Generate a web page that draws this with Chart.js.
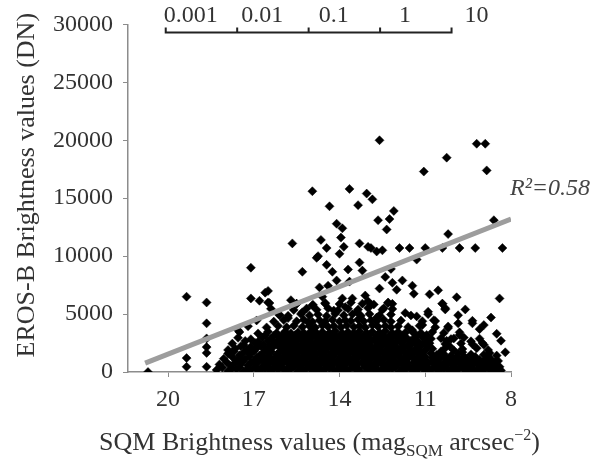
<!DOCTYPE html>
<html>
<head>
    <meta charset="utf-8">
    <title>EROS-B vs SQM</title>
    <script src="https://cdn.jsdelivr.net/npm/chart.js"></script>
    <style>
        body { margin: 0; background: #fff; }
        #wrap { width: 606px; height: 462px; position: relative; }
    </style>
</head>
<body>
    <div id="wrap"><canvas id="scatterChart"></canvas></div>
    <script>
        // SQM magnitude (x) / EROS-B DN (y)
        var points = [
            // sparse points, upper part
            [12.6,20000],[9.2,19700],[8.9,19700],[10.25,18500],[11.05,17300],[8.85,17400],
            [14.95,15600],[13.65,15800],[13.05,15400],[12.85,14900],[14.35,14300],[13.35,14400],
            [12.1,13900],[8.6,13100],[12.65,13100],[12.25,13200],[14.1,12800],[13.9,12400],
            [12.35,12300],[10.2,11900],[15.65,11100],[14.65,11400],[13.95,11600],[13.3,11100],
            [13.0,10800],[12.9,10700],[14.45,10700],[13.85,10800],[11.9,10700],[11.55,10700],
            [11.0,10700],[10.4,10700],[9.8,10700],[9.25,10700],[8.3,10700],[14.75,10000],
            [14.0,10200],[12.5,10500],[12.7,10400],
            [17.1,9000],[11.3,9700],[14.8,9850],[15.3,8650],[14.45,9250],[14.25,8650],[13.7,8850],
            [13.3,9450],[13.2,8750],[14.1,7900],[13.65,7800],[14.7,7300],[14.4,7450],[16.5,7000],
            [16.6,6850],[16.5,6000],[15.5,5900],[15.3,5150],[14.95,5750],[14.5,5900],[13.9,6350],
            [13.55,6350],[13.1,6600],[12.6,7200],[12.3,6000],[16.1,4900],[15.8,4650],[15.1,4300],
            [12.15,7700],[11.8,7900],[11.45,7450],[11.4,6750],[10.85,6700],[10.55,7050],[10.4,5900],
            [10.3,5500],[9.9,6450],[8.4,6350],[10.65,4400],[9.85,4200],[9.35,4200],[8.95,4050],
            [9.8,3200],[9.0,2500],[8.2,1700],[8.75,1650],[10.2,3800],[11.1,4050],[11.45,3600],[11.95,3200],
            [12.4,8200],[12.2,8900],[12.0,7100],
            [13.8,5600],[13.4,5200],[12.9,5800],[14.2,5300],[12.7,4700],[13.0,6100],[14.6,6500],
            [15.7,6200],[12.45,5500],[11.7,5100],[11.3,4800],[10.9,5200],[9.6,5400],[8.7,4700],
            [9.1,3700],[8.5,3300],[10.0,2900],[8.35,2700],
            // left side
            [20.7,0],[19.35,6500],[19.35,1200],[19.35,450],[18.65,6000],[18.65,4200],[18.65,2900],
            [18.65,2150],[18.65,1650],[18.65,450],[17.1,6350],[16.8,6150],[17.55,3600],[17.9,1900],
            // dense band near zero
            [18.3,180],[17.9,90],[17.6,240],[17.35,60],[17.1,200],[16.85,120],[16.6,280],[16.4,70],
            [16.15,190],[15.9,110],[15.7,260],[15.45,40],[15.25,170],[15.0,230],[14.8,80],[14.55,150],
            [14.35,300],[14.1,60],[13.9,180],[13.7,110],[13.45,250],[13.25,30],[13.0,160],[12.8,220],
            [12.55,70],[12.35,140],[12.15,290],[11.9,50],[11.7,180],[11.45,120],[11.25,240],[11.0,60],
            [10.8,170],[10.55,100],[10.35,260],[10.1,40],[9.9,150],[9.65,210],[9.45,80],[9.2,160],
            [9.0,30],[8.75,200],[8.55,90],[8.35,140],
            [18.1,380],[17.75,300],[17.5,420],[17.2,330],[16.95,400],[16.7,310],[16.5,430],[16.3,350],
            [16.0,390],[15.8,320],[15.6,440],[15.35,360],[15.15,300],[14.9,410],[14.7,340],[14.45,390],
            [14.25,320],[14.0,430],[13.8,350],[13.55,400],[13.35,310],[13.1,420],[12.9,360],[12.7,300],
            [12.45,410],[12.25,340],[12.05,390],[11.8,320],[11.6,430],[11.35,350],[11.1,400],[10.9,310],
            [10.7,420],[10.45,360],[10.25,330],[10.0,410],[9.8,340],[9.55,390],[9.35,320],[9.1,430],
            [8.9,350],[8.65,300],[8.45,380],
            [18.2,650],[17.8,520],[17.45,700],[17.2,560],[16.95,660],[16.7,480],[16.5,720],[16.25,590],
            [16.05,450],[15.8,680],[15.55,540],[15.35,760],[15.1,600],[14.9,470],[14.65,690],[14.45,560],
            [14.2,740],[14.0,500],[13.8,640],[13.55,570],[13.35,710],[13.1,480],[12.9,620],[12.65,750],
            [12.45,530],[12.2,660],[12.0,580],[11.75,700],[11.55,490],[11.3,630],[11.1,560],[10.9,720],
            [10.65,470],[10.45,610],[10.2,680],[10.0,520],[9.75,640],[9.5,560],[9.3,710],[9.05,480],
            [8.85,600],[8.6,530],[8.4,450],
            [17.95,850],[17.65,790],[17.4,880],[17.1,810],[16.85,860],[16.6,780],[16.4,900],[16.15,820],
            [15.95,870],[15.7,800],[15.45,890],[15.25,830],[15.0,860],[14.8,790],[14.55,900],[14.35,820],
            [14.1,870],[13.9,800],[13.65,880],[13.45,840],[13.2,780],[13.0,890],[12.75,820],[12.55,860],
            [12.3,800],[12.1,880],[11.9,830],[11.65,870],[11.4,790],[11.2,900],[11.0,820],[10.75,860],
            [10.55,800],[10.3,880],[10.1,830],[9.9,870],[9.65,790],[9.45,890],[9.2,820],[9.0,860],
            [8.75,800],[8.55,880],
            [18.05,1150],[17.6,980],[17.3,1120],[17.0,940],[16.75,1080],[16.55,1200],[16.3,960],[16.1,1090],
            [15.85,1010],[15.6,1180],[15.4,930],[15.2,1060],[14.95,1140],[14.7,990],[14.5,1200],[14.3,1030],
            [14.05,950],[13.85,1110],[13.6,1040],[13.4,1190],[13.15,970],[12.95,1080],[12.7,1150],[12.5,1000],
            [12.25,1120],[12.05,960],[11.8,1070],[11.6,1180],[11.35,1010],[11.15,1100],[10.95,940],[10.7,1060],
            [10.5,1140],[10.25,980],[10.05,1090],[9.8,1020],[9.55,1150],[9.35,950],[9.1,1050],[8.9,990],
            [8.7,1100],[8.45,960],
            [17.75,1300],[17.45,1240],[17.15,1330],[16.9,1260],[16.65,1310],[16.4,1230],[16.2,1340],[15.95,1270],
            [15.75,1320],[15.5,1250],[15.3,1290],[15.05,1340],[14.85,1260],[14.6,1310],[14.4,1240],[14.2,1330],
            [13.95,1270],[13.75,1300],[13.5,1230],[13.3,1340],[13.05,1260],[12.85,1310],[12.6,1250],[12.4,1320],
            [12.15,1270],[11.9,1300],[11.7,1240],[11.45,1330],[11.2,1260],[11.0,1300],[10.75,1240],[10.55,1320],
            [10.3,1270],[10.1,1300],[9.9,1250],[9.65,1330],[9.25,1310],[8.8,1300],
            [17.9,1600],[17.5,1450],[17.15,1550],[16.8,1420],[16.45,1640],[16.2,1500],[15.95,1380],[15.7,1570],
            [15.5,1470],[15.25,1620],[15.05,1400],[14.8,1530],[14.6,1660],[14.35,1440],[14.15,1580],[13.95,1490],
            [13.7,1370],[13.5,1610],[13.25,1460],[13.05,1540],[12.8,1400],[12.6,1650],[12.35,1480],[12.15,1560],
            [11.95,1420],[11.7,1590],[11.5,1460],[11.25,1530],[11.05,1390],[10.8,1620],[10.6,1470],[10.35,1550],
            [10.1,1410],[9.85,1580],[9.4,1520],[8.95,1490],[8.5,1420],
            [17.7,1760],[17.35,1700],[17.0,1780],[16.65,1720],[16.4,1770],[16.1,1700],[15.85,1750],[15.6,1710],
            [15.4,1790],[15.15,1720],[14.95,1760],[14.7,1700],[14.5,1780],[14.25,1730],[14.0,1770],[13.8,1710],
            [13.6,1790],[13.4,1720],[13.15,1760],[12.95,1700],[12.7,1780],[12.5,1730],[12.25,1770],[12.05,1710],
            [11.85,1760],[11.6,1720],[11.4,1790],[11.15,1700],[10.45,1780],[9.7,1700],
            [17.65,2000],[17.25,1880],[16.9,2060],[16.6,1920],[16.35,2100],[16.0,1850],[15.75,2010],[15.55,1930],
            [15.3,2080],[15.1,1890],[14.85,2040],[14.65,1960],[14.4,2120],[14.2,1870],[13.95,2030],[13.75,1950],
            [13.55,2090],[13.3,1900],[13.1,2050],[12.85,1980],[12.6,2110],[12.4,1860],[12.2,2020],[11.95,1940],
            [11.75,2070],[11.5,1910],[11.3,2040],[11.0,1880],[10.75,2000],[10.3,2080],[10.0,1870],
            [9.7,1990],[9.2,2050],[8.8,1900],
            [17.45,2230],[17.1,2170],[16.75,2250],[16.45,2180],[16.15,2240],[15.9,2160],[15.65,2220],[15.45,2190],
            [15.2,2260],[15.0,2170],[14.75,2230],[14.55,2180],[14.3,2250],[14.1,2200],[13.85,2240],[13.65,2170],
            [13.45,2230],[13.2,2190],[13.0,2260],[12.75,2180],[12.55,2240],[12.3,2170],[12.05,2230],[11.8,2190],
            [11.55,2250],[11.2,2180],[10.9,2230],[10.15,2220],
            [17.75,2450],[17.35,2330],[16.95,2500],[16.65,2380],[16.3,2470],[16.05,2340],[15.8,2520],[15.6,2410],
            [15.35,2360],[15.15,2490],[14.9,2400],[14.7,2550],[14.5,2350],[14.25,2460],[14.05,2380],[13.8,2530],
            [13.6,2420],[13.4,2340],[13.2,2480],[12.95,2400],[12.7,2560],[12.5,2360],[12.3,2450],[12.1,2390],
            [11.85,2500],[11.6,2350],[11.35,2430],[11.1,2380],[10.85,2490],[10.3,2420],
            [9.75,2470],[9.35,2400],[8.95,2350],
            [17.3,2680],[16.85,2620],[16.5,2700],[16.2,2640],[15.95,2690],[15.7,2610],[15.5,2680],[15.25,2650],
            [15.05,2700],[14.8,2620],[14.6,2690],[14.4,2640],[14.15,2710],[13.95,2630],[13.75,2680],[13.5,2650],
            [13.3,2700],[13.1,2620],[12.9,2690],[12.65,2640],[12.45,2700],[12.2,2630],[12.0,2680],[11.75,2650],
            [11.5,2700],[11.25,2620],[10.95,2680],[10.25,2690],[9.4,2650],
            [17.55,2950],[17.1,2830],[16.7,2980],[16.4,2860],[16.1,3010],[15.85,2900],[15.65,2820],[15.4,2970],
            [15.2,2880],[14.95,3030],[14.75,2850],[14.55,2960],[14.3,2890],[14.1,3040],[13.9,2840],[13.65,2950],
            [13.45,2870],[13.25,3000],[13.0,2910],[12.8,2830],[12.55,2980],[12.35,2880],[12.15,3020],[11.9,2850],
            [11.65,2940],[11.4,2880],[11.1,2990],[10.8,2860],[10.45,2920],[10.1,2840],[9.65,2970],[9.1,2880],
            [16.6,3180],[16.3,3120],[16.0,3200],[15.75,3140],[15.55,3190],[15.3,3120],[15.1,3180],[14.85,3150],
            [14.65,3210],[14.45,3130],[14.2,3190],[14.0,3140],[13.8,3200],[13.55,3120],[13.35,3180],[13.15,3150],
            [12.95,3210],[12.7,3130],[12.5,3190],[12.25,3140],[12.05,3180],[11.8,3120],[11.3,3150],
            [10.95,3200],
            [17.5,3450],[16.85,3330],[16.5,3480],[16.2,3370],[15.9,3500],[15.7,3350],[15.45,3440],[15.25,3380],
            [15.0,3520],[14.8,3360],[14.6,3460],[14.35,3390],[14.15,3540],[13.9,3340],[13.7,3450],[13.5,3380],
            [13.3,3510],[13.05,3360],[12.85,3470],[12.6,3400],[12.4,3530],[12.15,3350],[11.95,3460],[11.7,3390],
            [11.45,3480],[11.15,3360],[10.75,3450],[10.35,3370],[9.8,3420],
            [17.2,3950],[16.55,3850],[16.15,3980],[15.85,3870],[15.6,4000],[15.3,3880],[15.05,3960],[14.85,3840],
            [14.6,4020],[14.4,3900],[14.2,3960],[13.95,3860],[13.75,4010],[13.5,3890],[13.3,3970],[13.1,3850],
            [12.85,4030],[12.65,3910],[12.4,3980],[12.2,3870],[11.95,3940],[11.6,3880],[11.2,3990],[10.65,3860],
            [10.2,3930],
            [16.9,4450],[16.3,4350],[15.95,4480],[15.5,4380],[15.25,4500],[14.95,4340],[14.7,4460],[14.5,4390],
            [14.25,4520],[14.0,4360],[13.8,4470],[13.6,4400],[13.35,4530],[13.15,4370],[12.9,4460],[12.7,4390],
            [12.45,4510],[12.2,4350],[11.85,4440],[11.1,4380],[10.7,4470],[9.35,4420],
            [16.1,4950],[15.8,4850],[15.35,5000],[15.05,4880],[14.75,4970],[14.45,4840],[14.15,5020],[13.85,4900],
            [13.55,4980],[13.25,4860],[12.95,5010],[12.6,4890],[12.2,4960],[11.5,4880],[10.9,4990],[9.85,4900],
            [16.4,5450],[15.6,5350],[15.15,5480],[14.8,5370],[14.4,5500],[14.05,5340],[13.7,5460],[13.35,5390],
            [13.0,5520],[12.5,5380],[12.15,5440],[10.3,5400],
            [16.45,5950],[15.5,5880],[14.93,5800],[14.5,5960],[14.0,5870],[13.6,6000],[13.2,5900],[12.8,5830],
            [12.3,5960],[12.15,5880],[10.4,5900]
        ];

        // linear fit, end points
        var trendX = [20.8, 8];
        var trendY = [770, 13200];
        var rSquared = 'R\u00b2=0.58';

        var xTicks = [20, 17, 14, 11, 8];
        var yTicks = [0, 5000, 10000, 15000, 20000, 25000, 30000];
        var yTitle = 'EROS-B Brightness values (DN)';

        // luminance scale on top (cd/m2), converted to SQM mag
        var lumTicks = [0.001, 0.01, 0.1, 1, 10];
        var lumLabels = ['0.001', '0.01', '0.1', '1', '10'];
        function magFromLum(l) { return 12.58 - 2.5 * Math.log10(l); }

        var serif = '"Liberation Serif", "Times New Roman", serif';
        var textColor = '#333';
        var axisColor = '#8c8c8c';

        var extras = {
            id: 'extras',
            afterDraw: function(chart) {
                var ctx = chart.ctx;
                var xs = chart.scales.x, ys = chart.scales.y;
                var area = chart.chartArea;
                var top = area.top;
                ctx.save();

                // top bracket axis
                var px = lumTicks.map(function(v) { return xs.getPixelForValue(magFromLum(v)); });
                var yLine = top + 8;
                ctx.strokeStyle = '#222';
                ctx.lineWidth = 2;
                ctx.beginPath();
                ctx.moveTo(px[0], yLine);
                ctx.lineTo(px[px.length - 1], yLine);
                px.forEach(function(p) {
                    ctx.moveTo(p, yLine + 1);
                    ctx.lineTo(p, yLine - 5);
                });
                ctx.stroke();
                ctx.font = '24px ' + serif;
                ctx.fillStyle = textColor;
                ctx.textAlign = 'center';
                ctx.textBaseline = 'alphabetic';
                lumLabels.forEach(function(t, i) { ctx.fillText(t, px[i] + 25, top - 2); });

                // R2 label
                ctx.font = 'italic 24px ' + serif;
                ctx.fillStyle = '#444';
                ctx.textAlign = 'left';
                ctx.fillText(rSquared, xs.getPixelForValue(8) - 1, ys.getPixelForValue(15300));

                // y title
                ctx.save();
                ctx.translate(27, (area.top + area.bottom) / 2 - 13);
                ctx.rotate(-Math.PI / 2);
                ctx.font = '26px ' + serif;
                ctx.fillStyle = textColor;
                ctx.textAlign = 'center';
                ctx.textBaseline = 'middle';
                ctx.fillText(yTitle, 0, 0);
                ctx.restore();

                // x title with sub/superscript
                var parts = [
                    { t: 'SQM Brightness values (mag', size: 26, dy: 0 },
                    { t: 'SQM', size: 17, dy: 6 },
                    { t: ' arcsec', size: 26, dy: 0 },
                    { t: '\u22122', size: 16, dy: -10 },
                    { t: ')', size: 26, dy: 0 }
                ];
                var total = 0;
                parts.forEach(function(p) {
                    ctx.font = p.size + 'px ' + serif;
                    p.w = ctx.measureText(p.t).width;
                    total += p.w;
                });
                var cx = (area.left + area.right) / 2 - total / 2;
                var base = 450;
                ctx.fillStyle = textColor;
                ctx.textAlign = 'left';
                ctx.textBaseline = 'alphabetic';
                parts.forEach(function(p) {
                    ctx.font = p.size + 'px ' + serif;
                    ctx.fillText(p.t, cx, base + p.dy);
                    cx += p.w;
                });
                ctx.restore();
            }
        };

        var ctx = document.getElementById('scatterChart').getContext('2d');
        new Chart(ctx, {
            type: 'scatter',
            data: {
                datasets: [{
                    type: 'line',
                    data: trendX.map(function(x, i) { return { x: x, y: trendY[i] }; }),
                    borderColor: '#9d9d9d',
                    borderWidth: 5,
                    pointRadius: 0,
                    order: 0
                }, {
                    data: points.map(function(p) { return { x: p[0], y: p[1] }; }),
                    pointStyle: 'rectRot',
                    pointRadius: 4.5,
                    backgroundColor: '#000',
                    borderColor: '#000',
                    borderWidth: 0.5,
                    order: 1
                }]
            },
            options: {
                responsive: true,
                maintainAspectRatio: false,
                animation: false,
                layout: { padding: { top: 24, right: 95, bottom: 0, left: 0 } },
                plugins: { legend: { display: false }, tooltip: { enabled: false } },
                scales: {
                    x: {
                        type: 'linear',
                        min: 8,
                        max: 21.4,
                        reverse: true,
                        afterBuildTicks: function(s) { s.ticks = xTicks.map(function(v) { return { value: v }; }); },
                        afterFit: function(s) { s.height = 90; },
                        grid: { drawOnChartArea: false, tickLength: 5, color: axisColor },
                        border: { color: axisColor, width: 1.5 },
                        ticks: {
                            padding: 8, color: textColor, font: { family: serif, size: 24 }, maxRotation: 0,
                            callback: function(v) { return String(v); }
                        }
                    },
                    y: {
                        min: 0,
                        max: 30000,
                        afterBuildTicks: function(s) { s.ticks = yTicks.map(function(v) { return { value: v }; }); },
                        afterFit: function(s) { s.width = 128; },
                        grid: { drawOnChartArea: false, tickLength: 5, color: axisColor },
                        border: { color: axisColor, width: 1.5 },
                        ticks: {
                            padding: 10, color: textColor, font: { family: serif, size: 24 },
                            callback: function(v) { return String(v); }
                        }
                    }
                }
            },
            plugins: [extras]
        });
    </script>
</body>
</html>
